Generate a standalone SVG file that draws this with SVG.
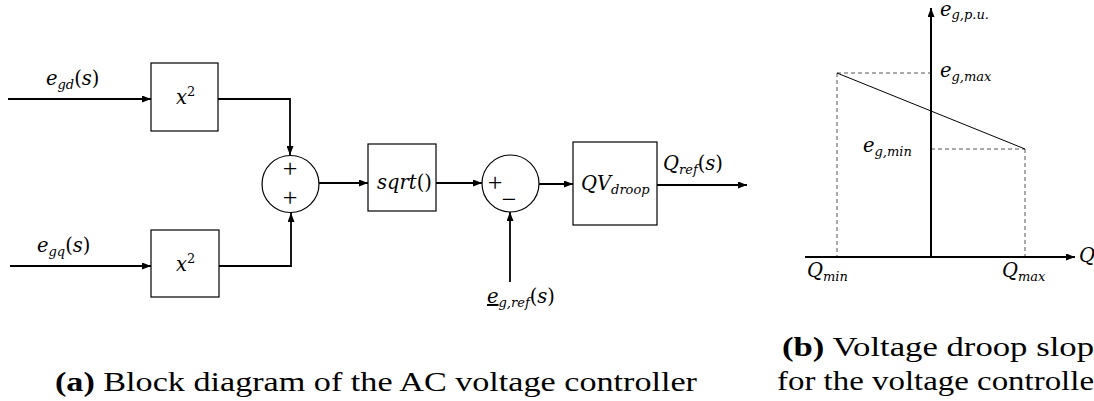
<svg xmlns="http://www.w3.org/2000/svg" width="1094" height="401" viewBox="0 0 1094 401">
<style>
.box{fill:#fff;stroke:#000;stroke-width:1.2}
.sum{fill:#fff;stroke:#000;stroke-width:1.2}
.wire{fill:none;stroke:#000;stroke-width:1.8}
.axis{fill:none;stroke:#000;stroke-width:2}
.dash{fill:none;stroke:#555;stroke-width:1;stroke-dasharray:4 3}
.slope{fill:none;stroke:#000;stroke-width:1}
.m{font-family:"DejaVu Serif","Liberation Serif",serif;font-style:italic;font-size:19.5px;fill:#000}
.up{font-style:normal}
.sub{font-size:13px}
.sign{font-family:"Liberation Serif",serif;font-size:26px;fill:#000;text-anchor:middle}
.cap{font-family:"Liberation Serif","DejaVu Serif",serif;font-size:28px;fill:#000}
.b{font-weight:bold}
</style>
<defs>
<marker id="arr" markerUnits="userSpaceOnUse" markerWidth="9" markerHeight="7" refX="9" refY="3.5" orient="auto">
<path d="M0,0 L9,3.5 L0,7 z" fill="#000"/>
</marker>
</defs>

<g id="connectors">
<path class="wire" d="M8,99 H151" marker-end="url(#arr)"/>
<path class="wire" d="M218,99 H290 V155" marker-end="url(#arr)"/>
<path class="wire" d="M10,266 H151" marker-end="url(#arr)"/>
<path class="wire" d="M219,266 H291 V213" marker-end="url(#arr)"/>
<path class="wire" d="M319,183 H368" marker-end="url(#arr)"/>
<path class="wire" d="M436,183 H482" marker-end="url(#arr)"/>
<path class="wire" d="M539,184 H573" marker-end="url(#arr)"/>
<path class="wire" d="M657,185 H747" marker-end="url(#arr)"/>
<path class="wire" d="M510,282 V212" marker-end="url(#arr)"/>
</g>

<g id="label-egd"><text class="m" x="46" y="85">e<tspan class="sub" dy="4">gd</tspan><tspan class="up" dy="-4">(</tspan>s<tspan class="up">)</tspan></text></g>
<g id="label-egq"><text class="m" x="37" y="252">e<tspan class="sub" dy="4">gq</tspan><tspan class="up" dy="-4">(</tspan>s<tspan class="up">)</tspan></text></g>

<g id="sq1"><rect class="box" x="151" y="63" width="67" height="68"/><text class="m" x="176" y="104">x<tspan class="up sub" dy="-8">2</tspan></text></g>
<g id="sq2"><rect class="box" x="151" y="230" width="68" height="67"/><text class="m" x="176" y="271">x<tspan class="up sub" dy="-8">2</tspan></text></g>

<g id="sum1"><circle class="sum" cx="290.5" cy="184" r="28.5"/>
<text class="sign" x="290" y="177">+</text><text class="sign" x="290" y="206">+</text></g>

<g id="sqrt"><rect class="box" x="368" y="144" width="68" height="67"/><text class="m" x="377" y="189">sqrt<tspan class="up">()</tspan></text></g>

<g id="sum2"><circle class="sum" cx="510.5" cy="183.5" r="28.5"/>
<text class="sign" x="495" y="191">+</text><text class="sign" x="509" y="208">−</text></g>

<g id="qv"><rect class="box" x="573" y="142" width="84" height="83"/><text class="m" x="581" y="190">QV<tspan class="sub" dy="4">droop</tspan></text></g>

<g id="label-qref"><text class="m" x="663" y="170">Q<tspan class="sub" dy="4">ref</tspan><tspan class="up" dy="-4">(</tspan>s<tspan class="up">)</tspan></text></g>
<g id="label-egref"><text class="m" x="487" y="303"><tspan text-decoration="underline">e</tspan><tspan class="sub" dy="4">g,ref</tspan><tspan class="up" dy="-4">(</tspan>s<tspan class="up">)</tspan></text></g>

<g id="droop-chart">
<path class="dash" d="M837,73 H931 M837,73 V257 M931,149 H1025 M1025,149 V257"/>
<path class="slope" d="M837,73 L1025,149"/>
<path class="axis" d="M931,257 V8" marker-end="url(#arr)"/>
<path class="axis" d="M805,257 H1075" marker-end="url(#arr)"/>
<text class="m" x="940" y="16" font-size="17px">e<tspan class="sub" font-size="12px" dy="3">g,p.u.</tspan></text>
<text class="m" x="940" y="77">e<tspan class="sub" dy="4">g,max</tspan></text>
<text class="m" x="863" y="152">e<tspan class="sub" dy="4">g,min</tspan></text>
<text class="m" x="807" y="277">Q<tspan class="sub" dy="4">min</tspan></text>
<text class="m" x="1002" y="277">Q<tspan class="sub" dy="4">max</tspan></text>
<text class="m" x="1079" y="262">Q</text>
</g>

<g id="captions">
<text class="cap" x="55" y="391" textLength="642" lengthAdjust="spacingAndGlyphs"><tspan class="b">(a)</tspan> Block diagram of the AC voltage controller</text>
<text class="cap" x="782" y="356" textLength="312" lengthAdjust="spacingAndGlyphs"><tspan class="b">(b)</tspan> Voltage droop slop</text>
<text class="cap" x="777" y="390" textLength="317" lengthAdjust="spacingAndGlyphs">for the voltage controlle</text>
</g>
</svg>
